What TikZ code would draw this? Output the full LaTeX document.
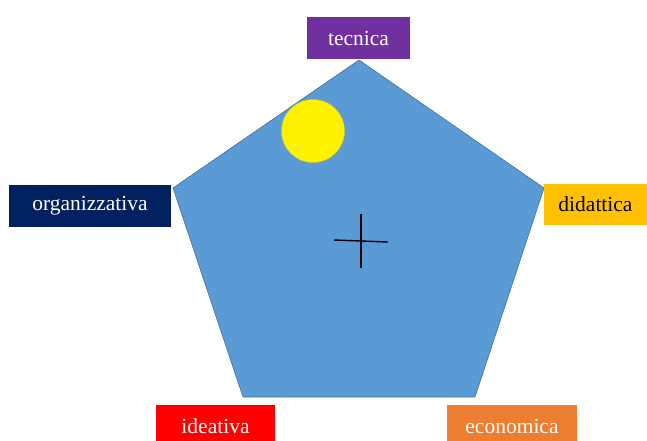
\documentclass[tikz,border=0pt]{standalone}
\usepackage{fontspec}
\setmainfont{Liberation Serif}
\usepackage{xcolor}
\usepackage{tikz}

\definecolor{pentablue}{HTML}{5B9BD5}
\definecolor{pentaline}{HTML}{41719C}
\definecolor{tecpurple}{HTML}{7030A0}
\definecolor{orgnavy}{HTML}{002060}
\definecolor{didgold}{HTML}{FFC000}
\definecolor{ideared}{HTML}{FF0000}
\definecolor{ecoorange}{HTML}{ED7D31}

\begin{document}
\begin{tikzpicture}[x=1pt, y=-1pt,
    labelbox/.style={inner sep=0pt, minimum height=42pt, text=white,
        font=\fontsize{21.5}{24}\selectfont}]
    \useasboundingbox (0,0) rectangle (647,440);
    \clip (0,0) rectangle (647,440);

    % pentagon
    \draw[pentaline, fill=pentablue, line width=0.6pt]
        (359,60) -- (544,188) -- (475,397) -- (243,397) -- (173,188) -- cycle;

    % sun and cross
    \draw[fill=yellow, draw=yellow!80!black, line width=0.5pt] (313,131) circle (31.5);
    \draw[line width=1.4pt] (334,240) -- (388,242);
    \draw[line width=1.4pt] (361,214) -- (361,268);

    % labels
    \node[labelbox, fill=tecpurple, minimum width=103pt] (tecnica) at (358.5,38) {tecnica};
    \node[labelbox, fill=orgnavy, minimum width=162pt] (organizzativa) at (90,206) {organizzativa};
    \node[labelbox, fill=didgold, minimum width=103pt, minimum height=41pt, text=black] (didattica) at (595.5,204.5) {didattica};
    \node[labelbox, fill=ideared, minimum width=119pt] (ideativa) at (215.5,426) {ideativa};
    \node[labelbox, fill=ecoorange, minimum width=130pt] (economica) at (512,426) {economica};
\end{tikzpicture}
\end{document}
